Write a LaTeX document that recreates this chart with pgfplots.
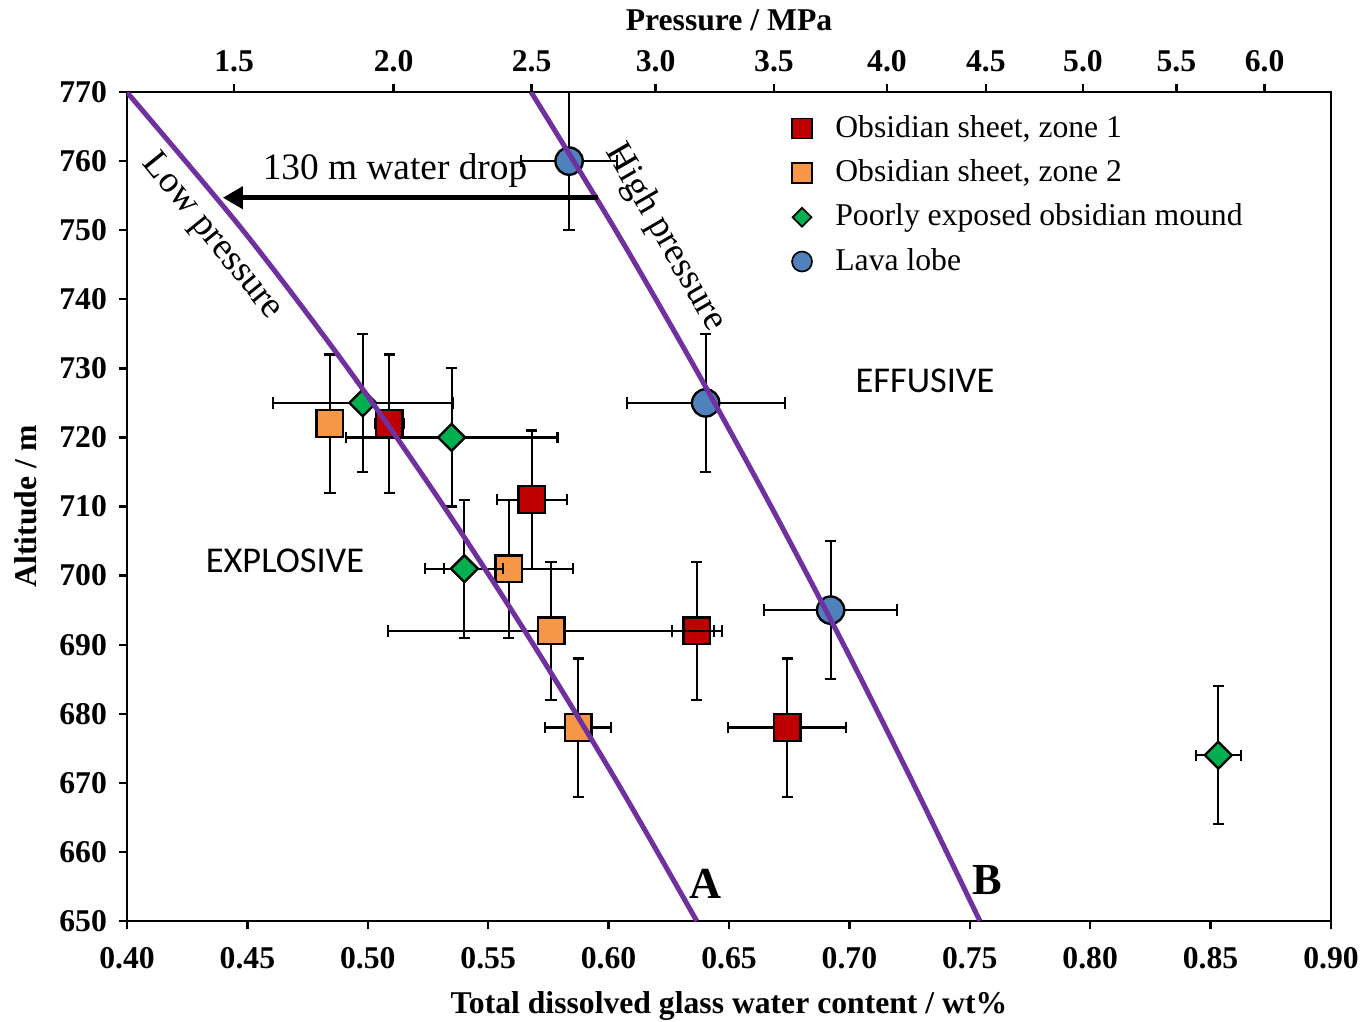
\documentclass[border=0pt]{standalone}
\usepackage{fontspec}
\setmainfont{Liberation Serif}
\newfontfamily\calibri{Carlito}
\usepackage{pgfplots}
\usepackage{pgfplotstable}
\pgfplotsset{compat=1.18}
\usetikzlibrary{arrows.meta}
\definecolor{zoneone}{HTML}{C00000}
\definecolor{zonetwo}{HTML}{F79646}
\definecolor{mound}{HTML}{00B050}
\definecolor{lobe}{HTML}{4F81BD}
\definecolor{curve}{HTML}{7030A0}

\pgfplotstableread{
x y ex ey
0.5089 722 0.006 10
0.5681 711 0.0145 10
0.6366 692 0.0104 10
0.6742 678 0.0245 10
}\zoneonedata
\pgfplotstableread{
x y ex ey
0.4843 722 0.004 10
0.5585 701 0.0268 10
0.5761 692 0.0676 10
0.5874 678 0.0137 10
}\zonetwodata
\pgfplotstableread{
x y ex ey
0.4979 725 0.0374 10
0.5348 720 0.0440 10
0.5401 701 0.0162 10
0.8532 674 0.0094 10
}\mounddata
\pgfplotstableread{
x y ex ey
0.5836 760 0.0200 10
0.6403 725 0.0328 10
0.6922 695 0.0277 10
}\lobedata

\begin{document}
\begin{tikzpicture}
\useasboundingbox (-38.1pt,-30pt) rectangle (371.4pt,276.3pt);
\pgfplotsset{
  common/.style={
    at={(0,0)}, anchor=south west,
    scale only axis, width=361.2pt, height=248.7pt,
    xmin=0.40, xmax=0.90, ymin=650, ymax=770,
    tick align=outside, major tick length=2.5pt,
    /pgf/number format/assume math mode=true,
    tick label style={font=\fontsize{9.5}{11}\selectfont\bfseries},
    label style={font=\fontsize{9.5}{11}\selectfont\bfseries},
    axis line style={line width=0.7pt},
    every tick/.style={black, line width=0.7pt},
  },
  ebar/.style={
    error bars/.cd,
      x dir=both, x explicit, y dir=both, y explicit,
      error mark=-,
      error bar style={line width=0.65pt, black},
      error mark options={rotate=90, black, line width=0.65pt, mark size=1.7pt},
  },
}
% top pressure axis
\begin{axis}[common,
  axis x line*=top, axis y line=none,
  xtick={0.4445,0.5107,0.5680,0.6195,0.6687,0.7156,0.7567,0.7970,0.8358,0.8724},
  xticklabels={1.5,2.0,2.5,3.0,3.5,4.0,4.5,5.0,5.5,6.0},
  xlabel={Pressure / MPa},
  xlabel style={yshift=-1pt},
]
\addplot[draw=none] coordinates {(0.5,700)};
\end{axis}
% main axis
\begin{axis}[common,
  clip mode=individual,
  xtick={0.40,0.45,0.50,0.55,0.60,0.65,0.70,0.75,0.80,0.85,0.90},
  ytick={650,660,670,680,690,700,710,720,730,740,750,760,770},
  xtick pos=bottom, ytick pos=left,
  xticklabel style={yshift=-1.8pt, /pgf/number format/fixed, /pgf/number format/fixed zerofill, /pgf/number format/precision=2},
  yticklabel style={/pgf/number format/fixed, /pgf/number format/precision=0},
  xlabel={Total dissolved glass water content / wt\%},
  ylabel={Altitude / m},
  legend style={at={(rel axis cs:0.5435,0.989)}, anchor=north west, draw=none, fill=none,
    font=\fontsize{9.5}{11}\selectfont, legend cell align=left, row sep=1.2pt, column sep=5pt},
]
\addlegendimage{only marks, mark=square*, mark size=3pt, fill=zoneone, draw=black, line width=0.5pt}
\addlegendentry{Obsidian sheet, zone 1}
\addlegendimage{only marks, mark=square*, mark size=3pt, fill=zonetwo, draw=black, line width=0.5pt}
\addlegendentry{Obsidian sheet, zone 2}
\addlegendimage{only marks, mark=square*, mark size=2pt, mark options={rotate=45}, fill=mound, draw=black, line width=0.5pt}
\addlegendentry{Poorly exposed obsidian mound}
\addlegendimage{only marks, mark=*, mark size=3pt, fill=lobe, draw=black, line width=0.5pt}
\addlegendentry{Lava lobe}

\addplot[forget plot, only marks, mark=square*, mark size=4pt, mark options={fill=zoneone, draw=black, line width=0.7pt}, ebar]
  table[x=x, y=y, x error=ex, y error=ey] {\zoneonedata};
\addplot[forget plot, only marks, mark=square*, mark size=4pt, mark options={fill=zonetwo, draw=black, line width=0.7pt}, ebar]
  table[x=x, y=y, x error=ex, y error=ey] {\zonetwodata};
\addplot[forget plot, only marks, mark=square*, mark size=2.85pt, mark options={rotate=45, fill=mound, draw=black, line width=0.7pt}, ebar]
  table[x=x, y=y, x error=ex, y error=ey] {\mounddata};
\addplot[forget plot, only marks, mark=*, mark size=4.1pt, mark options={fill=lobe, draw=black, line width=0.7pt}, ebar]
  table[x=x, y=y, x error=ex, y error=ey] {\lobedata};

% pressure curves A (low) and B (high)
\addplot[forget plot, curve, line width=1.5pt, smooth] coordinates {
(0.3999,770) (0.4481,750) (0.4917,730) (0.5316,710) (0.5688,690) (0.6037,670) (0.6366,650)};
\addplot[forget plot, curve, line width=1.5pt, smooth] coordinates {
(0.5678,770) (0.6029,750) (0.6360,730) (0.6675,710) (0.6976,690) (0.7264,670) (0.7542,650)};

\draw[line width=1.5pt, -{Triangle[length=6pt,width=6.5pt]}] (axis cs:0.5956,754.7) -- (axis cs:0.4398,754.7);
\node[font=\fontsize{11.2}{13}\selectfont] at (axis cs:0.5113,758.7) {130 m water drop};
\node[font=\fontsize{11.2}{13}\selectfont, rotate=-51] at (axis cs:0.4353,749) {Low pressure};
\node[font=\fontsize{11.2}{13}\selectfont, rotate=-60] at (axis cs:0.6234,748.9) {High pressure};
\node[font=\calibri\fontsize{10.9}{13}\selectfont] at (axis cs:0.7314,728.2) {EFFUSIVE};
\node[font=\calibri\fontsize{10.9}{13}\selectfont] at (axis cs:0.4656,702.1) {EXPLOSIVE};
\node[font=\fontsize{13.3}{15}\selectfont\bfseries] at (axis cs:0.6404,655.4) {A};
\node[font=\fontsize{13.3}{15}\selectfont\bfseries] at (axis cs:0.7571,655.9) {B};
\end{axis}
\end{tikzpicture}
\end{document}
